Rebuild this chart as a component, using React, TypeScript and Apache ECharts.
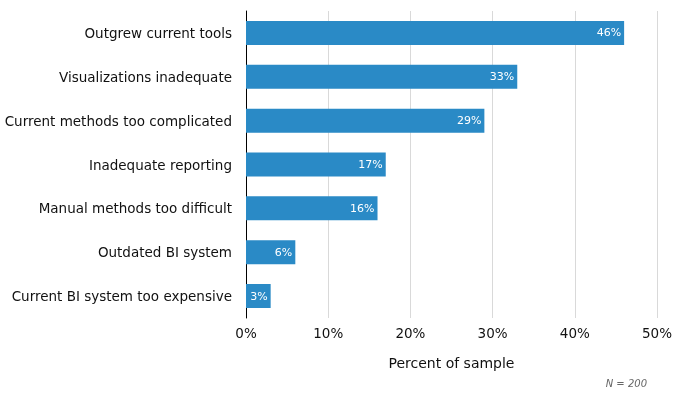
import React, { useEffect, useRef } from "react";
import * as echarts from "echarts";

const categories = [
  "Outgrew current tools",
  "Visualizations inadequate",
  "Current methods too complicated",
  "Inadequate reporting",
  "Manual methods too difficult",
  "Outdated BI system",
  "Current BI system too expensive",
];
const values = [46, 33, 29, 17, 16, 6, 3];
const xTicks = [0, 10, 20, 30, 40, 50];

export default function App() {
  const ref = useRef<HTMLDivElement>(null);
  useEffect(() => {
    if (!ref.current) return;
    const chart = echarts.init(ref.current, null, { renderer: "svg" });
    const font = "DejaVu Sans";
    chart.setOption({
      animation: false,
      textStyle: { fontFamily: font },
      grid: { left: 246, right: 18, top: 11, bottom: 88 },
      xAxis: {
        type: "value",
        min: xTicks[0],
        max: xTicks[xTicks.length - 1],
        interval: 10,
        name: "Percent of sample",
        nameLocation: "middle",
        nameGap: 38,
        nameTextStyle: { fontSize: 14, color: "#111", fontFamily: font },
        axisLine: { show: false },
        axisTick: { show: false },
        axisLabel: {
          fontSize: 13.5,
          color: "#111",
          margin: 8,
          fontFamily: font,
          formatter: (v: number) => v + "%",
        },
        splitLine: { show: true, lineStyle: { color: "#d9d9d9", width: 1 } },
      },
      yAxis: {
        type: "category",
        data: categories,
        inverse: true,
        axisLine: { show: true, lineStyle: { color: "#000", width: 1 } },
        axisTick: { show: false },
        axisLabel: { fontSize: 13.5, color: "#111", margin: 14, fontFamily: font },
      },
      series: [
        {
          type: "bar",
          data: values,
          barWidth: 24,
          itemStyle: { color: "#2a8ac6" },
          label: {
            show: true,
            position: "insideRight",
            distance: 3,
            color: "#fff",
            fontSize: 11,
            fontFamily: font,
            formatter: (p: any) => p.value + "%",
          },
        },
      ],
      graphic: [
        {
          type: "text",
          right: 28,
          top: 378,
          style: {
            text: "N = 200",
            fontSize: 10,
            fontStyle: "italic",
            fill: "#666",
            fontFamily: font,
          },
        },
      ],
    });
    return () => chart.dispose();
  }, []);
  return (
    <div
      ref={ref}
      style={{ position: "fixed", left: 0, top: 0, width: 675, height: 406 }}
    />
  );
}
